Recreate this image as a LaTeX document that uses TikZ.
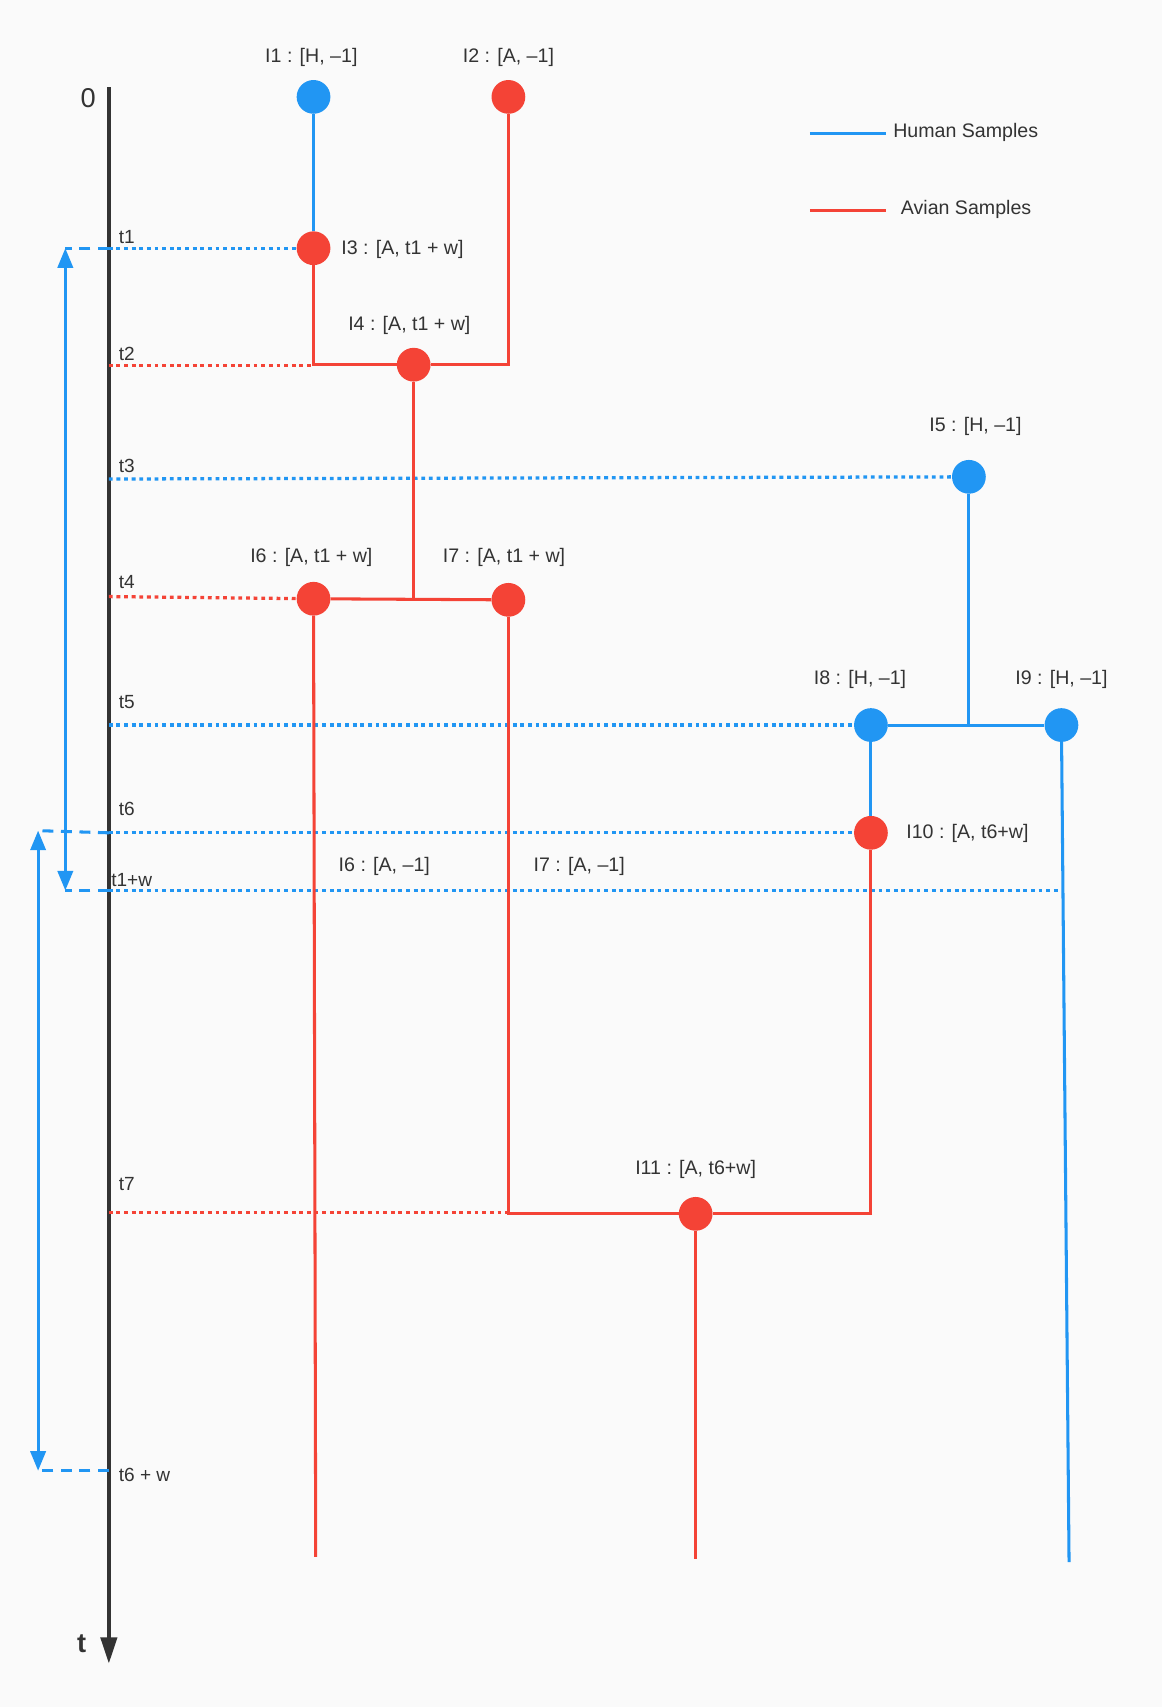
\documentclass[tikz,border=0pt]{standalone}
\usepackage{fontspec}
\setmainfont{Liberation Sans}
\usetikzlibrary{arrows.meta}
\definecolor{hblue}{HTML}{2196F3}
\definecolor{ared}{HTML}{F44336}
\definecolor{ink}{HTML}{333333}
\definecolor{paper}{HTML}{FAFAFA}

\begin{document}
\begin{tikzpicture}[x=1pt,y=-1pt,
    human/.style={hblue, line width=2.8pt},
    avian/.style={ared, line width=2.8pt},
    hdot/.style={hblue, line width=3pt, dash pattern=on 3.5pt off 3.5pt},
    adot/.style={ared, line width=3pt, dash pattern=on 3.5pt off 3.5pt},
    hdash/.style={hblue, line width=2.8pt, dash pattern=on 10pt off 7pt},
    window/.style={hblue, line width=2.8pt, {Triangle[length=18pt,width=14pt]}-{Triangle[length=18pt,width=14pt]}},
    hnode/.style={circle, fill=hblue, minimum size=31pt, inner sep=0pt},
    anode/.style={circle, fill=ared, minimum size=31pt, inner sep=0pt},
    lab/.style={text=ink, font=\fontsize{18}{21}\selectfont},
    tlab/.style={text=ink, font=\fontsize{17.5}{20}\selectfont, anchor=base west, inner sep=0pt},
    big/.style={text=ink, font=\fontsize{25}{29}\selectfont},
  ]
  \useasboundingbox (0,0) rectangle (1067,1568);
  \fill[paper] (0,0) rectangle (1067,1568); % background

  % time axis
  \coordinate (axtop) at (100,80);
  \coordinate (axbot) at (100,1528);
  \draw[ink, line width=3.2pt, -{Triangle[length=24pt,width=15pt]}] (axtop) -- (axbot);
  \node[big] (zero) at (81,90) {0};
  \node[big, font=\fontsize{25}{29}\selectfont\bfseries] (tname) at (75,1510) {t};

  % ticks on the axis
  \coordinate (t1) at (100,228);
  \coordinate (t2) at (100,336);
  \coordinate (t3) at (100,440);
  \coordinate (t4) at (100,548);
  \coordinate (t5) at (100,666);
  \coordinate (t6) at (100,765);
  \coordinate (t1w) at (100,818);
  \coordinate (t7) at (100,1114);
  \coordinate (t6w) at (100,1351);
  \node[tlab] (lt1) at (109,224) {t1};
  \node[tlab] (lt2) at (109,331) {t2};
  \node[tlab] (lt3) at (109,434) {t3};
  \node[tlab] (lt4) at (109,541) {t4};
  \node[tlab] (lt5) at (109,651) {t5};
  \node[tlab] (lt6) at (109,749) {t6};
  \node[tlab] (lt1w) at (102,814) {t1+w};
  \node[tlab] (lt7) at (109,1094) {t7};
  \node[tlab] (lt6w) at (109,1361) {t6 + w};

  % samples
  \node[hnode] (i1) at (288,89) {};
  \node[anode] (i2) at (467,89) {};
  \node[anode] (i3) at (288,228) {};
  \node[anode] (i4) at (380,335) {};
  \node[hnode] (i5) at (890,438) {};
  \node[anode] (i6) at (288,550) {};
  \node[anode] (i7) at (467,551) {};
  \node[hnode] (i8) at (800,666) {};
  \node[hnode] (i9) at (975,666) {};
  \node[anode] (i10) at (800,765) {};
  \node[anode] (i11) at (639,1115) {};

  \node[lab] (l1) at (286,53) {I1 : [H, --1]};
  \node[lab] (l2) at (467,53) {I2 : [A, --1]};
  \node[lab, anchor=west] (l3) at (310,229) {I3 : [A, t1 + w]};
  \node[lab] (l4) at (376,299) {I4 : [A, t1 + w]};
  \node[lab] (l5) at (896,392) {I5 : [H, --1]};
  \node[lab] (l6) at (286,512) {I6 : [A, t1 + w]};
  \node[lab] (l7) at (463,512) {I7 : [A, t1 + w]};
  \node[lab] (l8) at (790,624) {I8 : [H, --1]};
  \node[lab] (l9) at (975,624) {I9 : [H, --1]};
  \node[lab, anchor=west] (l10) at (829,766) {I10 : [A, t6+w]};
  \node[lab] (l11) at (639,1074) {I11 : [A, t6+w]};
  \node[lab] (l6b) at (353,796) {I6 : [A, --1]};
  \node[lab] (l7b) at (532,796) {I7 : [A, --1]};

  % dotted guides
  \draw[hdot] (t1) -- (i3);
  \draw[adot] (t2) -- (t2 -| i3);
  \draw[hdot] (t3) -- (i5);
  \draw[adot] (t4) -- (i6);
  \draw[hdot] (t5) -- (i8);
  \draw[hdot] (t6) -- (i10);
  \draw[hdot] (t1w) -- (t1w -| i9);
  \draw[adot] (t7) -- (t7 -| i7);

  % lineage branches
  \draw[human] (i1) -- (i3);
  \draw[avian] (i3) |- (i4) -| (i2);
  \draw[avian] (i4) -- (i4 |- i6);
  \draw[avian] (i6) -- (i7);
  \draw[human] (i5) -- (i5 |- i8);
  \draw[human] (i8) -- (i9);
  \draw[human] (i8) -- (i10);
  \draw[avian] (i7) |- (i11) -| (i10);
  \coordinate (e6) at (290,1430);
  \coordinate (e11) at (639,1432);
  \coordinate (e9) at (982,1435);
  \draw[avian] (i6) -- (e6);
  \draw[avian] (i11) -- (e11);
  \draw[human] (i9) -- (e9);

  % windows
  \coordinate (w1a) at (60,228);
  \coordinate (w1b) at (60,818);
  \coordinate (w6a) at (35,763);
  \coordinate (w6b) at (35,1351);
  \draw[hdash] (t1) -- (w1a);
  \draw[hdash] (t1w) -- (w1b);
  \draw[hdash] (t6) -- (w6a);
  \draw[hdash] (t6w) -- (w6b);
  \draw[window] (w1a) -- (w1b);
  \draw[window] (w6a) -- (w6b);

  % legend
  \draw[human] (744,123) -- (814,123);
  \draw[avian] (744,193) -- (814,193);
  \node[lab, anchor=west] (lh) at (817,122) {Human Samples};
  \node[lab, anchor=west] (la) at (824,192) {Avian Samples};
\end{tikzpicture}
\end{document}
